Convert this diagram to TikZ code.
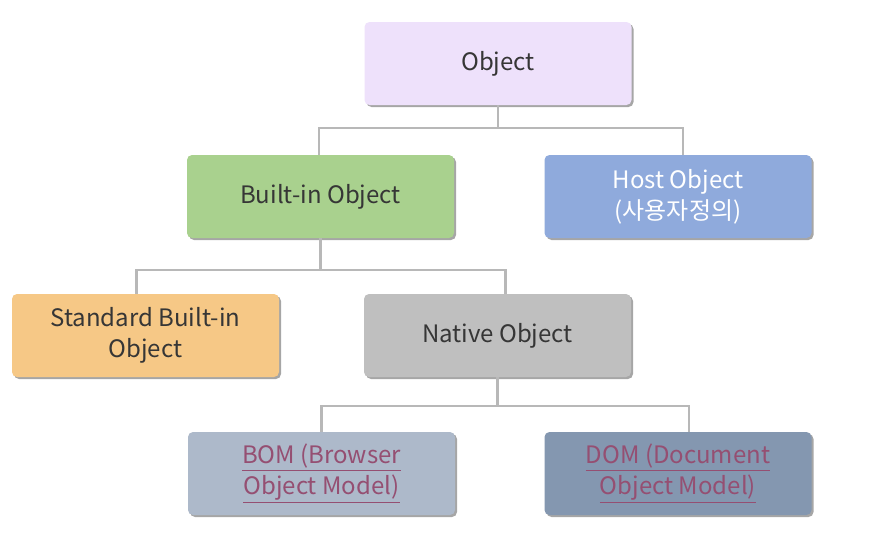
\documentclass[tikz,border=0pt]{standalone}
\usepackage{fontspec}
\setmainfont{Noto Sans CJK KR}
\usetikzlibrary{shadows}
\definecolor{objfill}{HTML}{EEE1FB}
\definecolor{binfill}{HTML}{A9D18E}
\definecolor{hostfill}{HTML}{8FAADC}
\definecolor{stdfill}{HTML}{F6C886}
\definecolor{natfill}{HTML}{BFBFBF}
\definecolor{bomfill}{HTML}{ADB9CA}
\definecolor{domfill}{HTML}{8497B0}
\definecolor{txtgray}{HTML}{363636}
\definecolor{linkcol}{HTML}{954F72}
\definecolor{conncol}{HTML}{B8B8B8}

\begin{document}
\begin{tikzpicture}[x=1pt,y=-1pt,
  box/.style={rectangle,rounded corners=5pt,minimum width=267pt,minimum height=83pt,
    align=center,text=txtgray,font=\fontsize{24}{31}\selectfont,
    drop shadow={shadow xshift=2pt,shadow yshift=-2pt,opacity=0.35,fill=black}},
  conn/.style={draw=conncol,line width=2.5pt}]
\useasboundingbox[fill=white] (0,0) rectangle (886,536);
\node[box,fill=objfill] (obj) at (498,63.5) {Object};
\node[box,fill=binfill] (bin) at (320.5,196.5) {Built-in Object};
\node[box,fill=hostfill,text=white] (host) at (678,196.5) {Host Object\\(사용자정의)};
\node[box,fill=stdfill] (std) at (145.5,335.5) {Standard Built-in\\Object};
\node[box,fill=natfill] (nat) at (497.5,335.5) {Native Object};
\node[box,fill=bomfill,text=linkcol] (bom) at (321.5,473.5) {\underline{BOM (Browser}\\\underline{Object Model)}};
\node[box,fill=domfill,text=linkcol] (dom) at (678,473.5) {\underline{DOM (Document}\\\underline{Object Model)}};
% elbow connectors
\draw[conn] (obj.south) -- ++(0,23) -| ([xshift=-1.5pt]bin.north);
\draw[conn] (obj.south) -- ++(0,23) -| ([xshift=5pt]host.north);
\draw[conn] (bin.south) -- ++(0,32) -| ([xshift=-9pt]std.north);
\draw[conn] (bin.south) -- ++(0,32) -| ([xshift=8pt]nat.north);
\draw[conn] (nat.south) -- ++(0,29) -| (bom.north);
\draw[conn] (nat.south) -- ++(0,29) -| ([xshift=11pt]dom.north);
\end{tikzpicture}
\end{document}
